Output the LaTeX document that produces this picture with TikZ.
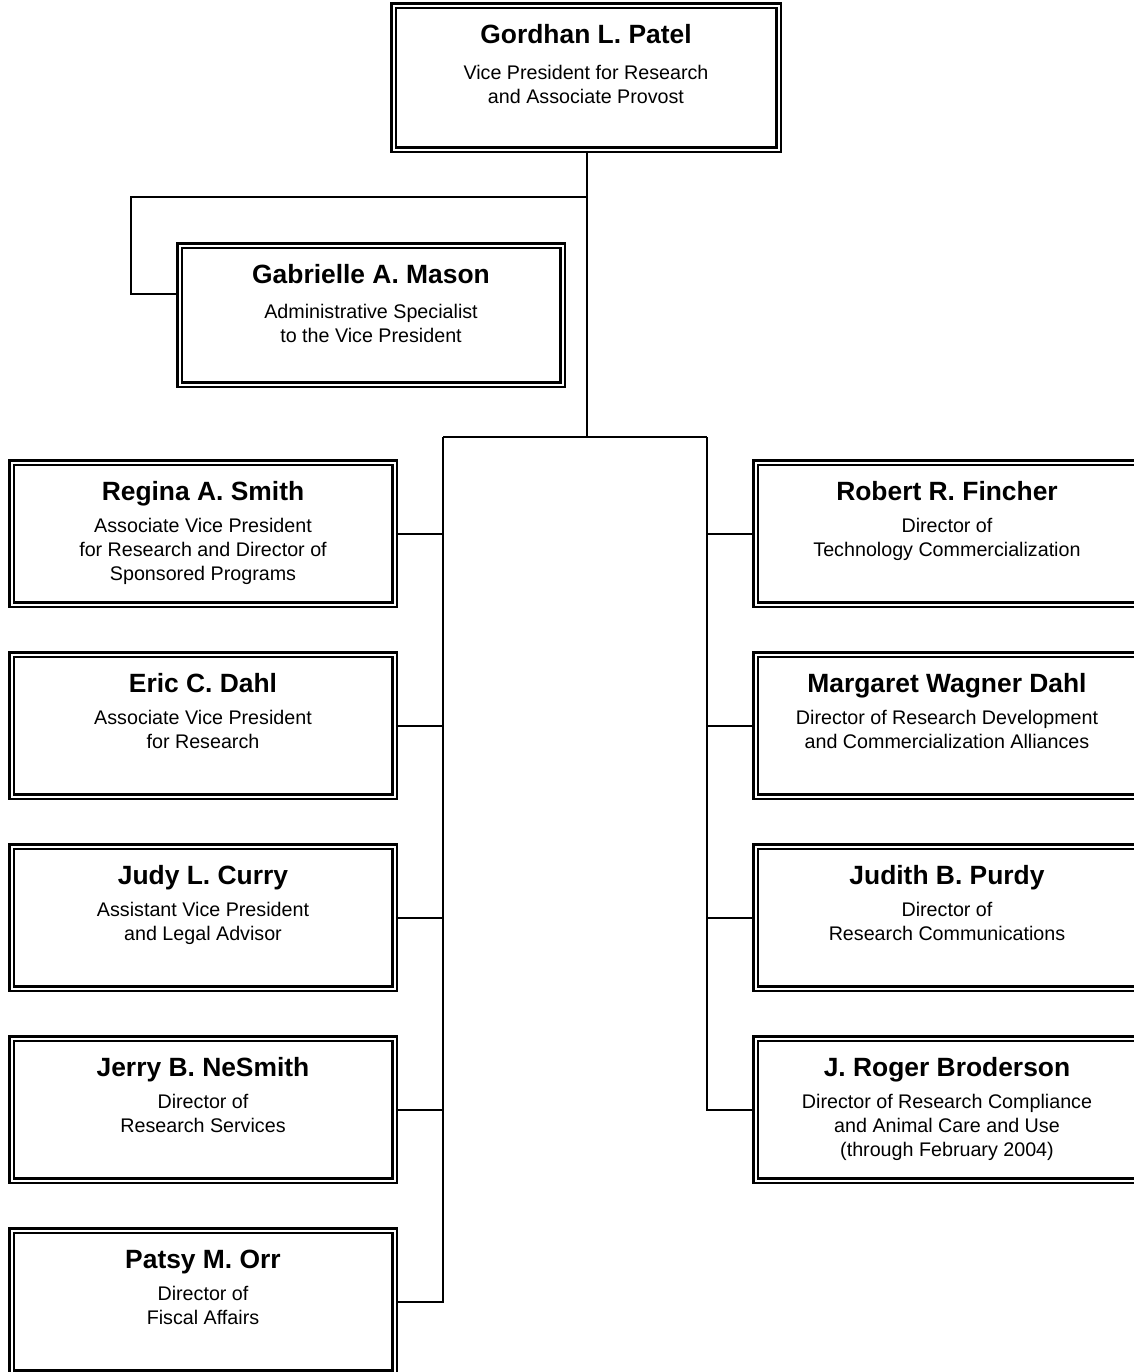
\documentclass[tikz,border=0pt]{standalone}
\usepackage{fontspec}
\setmainfont{Liberation Sans}
\usepackage{tikz}
\usetikzlibrary{positioning,calc}
\tikzset{
	unit/.style={% double framed boxes of the chart
		draw, rectangle,
		line width=1.25pt,
		double, double distance=1pt,
		minimum width=191.5pt,
		minimum height=71pt,
		inner sep=0pt
	},
	head/.style={
		anchor=base,
		font=\fontsize{13.2}{16}\selectfont\bfseries,
		inner sep=0pt
	},
	role/.style={% first line starts with a strut, so north sits 8.4pt over its baseline
		anchor=north,
		align=center,
		font=\fontsize{9.85}{12}\selectfont,
		execute at begin node=\strut,
		inner sep=0pt
	},
	link/.style={line width=1pt}
}
\begin{document}
\begin{tikzpicture}[x=0.5pt,y=-0.5pt]
	\useasboundingbox (0,0) rectangle (1134,1372);
	\clip (0,0) rectangle (1134,1372);

	% top
	\node[unit, minimum width=192.5pt, minimum height=72pt] (patel) at (586,77.5) {};
	\node[head] (patel-n) at ([yshift=-19.5pt]patel.north) {Gordhan L. Patel};
	\node[role] (patel-r) at ([yshift=-30.35pt]patel.north) {Vice President for Research\\and Associate Provost};

	\node[unit, minimum height=69.5pt] (mason) at (371,315) {};
	\node[head] (mason-n) at ([yshift=-19.5pt]mason.north) {Gabrielle A. Mason};
	\node[role] (mason-r) at ([yshift=-29.85pt]mason.north) {Administrative Specialist\\to the Vice President};

	% left column
	\node[unit] (smith) at (203,533.5) {};
	\node[head] (smith-n) at ([yshift=-19.5pt]smith.north) {Regina A. Smith};
	\node[role] (smith-r) at ([yshift=-28.35pt]smith.north) {Associate Vice President\\for Research and Director of\\Sponsored Programs};

	\node[unit] (edahl) at (203,725.5) {};
	\node[head] (edahl-n) at ([yshift=-19.5pt]edahl.north) {Eric C. Dahl};
	\node[role] (edahl-r) at ([yshift=-28.35pt]edahl.north) {Associate Vice President\\for Research};

	\node[unit] (curry) at (203,917.5) {};
	\node[head] (curry-n) at ([yshift=-19.5pt]curry.north) {Judy L. Curry};
	\node[role] (curry-r) at ([yshift=-28.35pt]curry.north) {Assistant Vice President\\and Legal Advisor};

	\node[unit] (nesmith) at (203,1109.5) {};
	\node[head] (nesmith-n) at ([yshift=-19.5pt]nesmith.north) {Jerry B. NeSmith};
	\node[role] (nesmith-r) at ([yshift=-28.35pt]nesmith.north) {Director of\\Research Services};

	\node[unit] (orr) at (203,1301.5) {};
	\node[head] (orr-n) at ([yshift=-19.5pt]orr.north) {Patsy M. Orr};
	\node[role] (orr-r) at ([yshift=-28.35pt]orr.north) {Director of\\Fiscal Affairs};

	% right column
	\node[unit] (fincher) at (947,533.5) {};
	\node[head] (fincher-n) at ([yshift=-19.5pt]fincher.north) {Robert R. Fincher};
	\node[role] (fincher-r) at ([yshift=-28.35pt]fincher.north) {Director of\\Technology Commercialization};

	\node[unit] (mdahl) at (947,725.5) {};
	\node[head] (mdahl-n) at ([yshift=-19.5pt]mdahl.north) {Margaret Wagner Dahl};
	\node[role] (mdahl-r) at ([yshift=-28.35pt]mdahl.north) {Director of Research Development\\and Commercialization Alliances};

	\node[unit] (purdy) at (947,917.5) {};
	\node[head] (purdy-n) at ([yshift=-19.5pt]purdy.north) {Judith B. Purdy};
	\node[role] (purdy-r) at ([yshift=-28.35pt]purdy.north) {Director of\\Research Communications};

	\node[unit] (broderson) at (947,1109.5) {};
	\node[head] (broderson-n) at ([yshift=-19.5pt]broderson.north) {J. Roger Broderson};
	\node[role] (broderson-r) at ([yshift=-28.35pt]broderson.north) {Director of Research Compliance\\and Animal Care and Use\\(through February 2004)};

	% lines
	\coordinate (busL) at (443,437);
	\coordinate (busR) at (707,437);
	\coordinate (tap) at (587,197);
	\coordinate (bend) at (131,294);
	\draw[link] (patel.south -| tap) -- (tap |- busL);
	\draw[link] (tap) -| (bend) -- (bend -| mason.west);
	\draw[link] (busL) -- (busR);
	\draw[link] (busL) |- (orr.east);
	\draw[link] (busR) |- (broderson.west);
	\foreach \n in {smith,edahl,curry,nesmith}
		\draw[link] (\n.east) -- (\n.east -| busL);
	\foreach \n in {fincher,mdahl,purdy}
		\draw[link] (\n.west) -- (\n.west -| busR);
\end{tikzpicture}
\end{document}
